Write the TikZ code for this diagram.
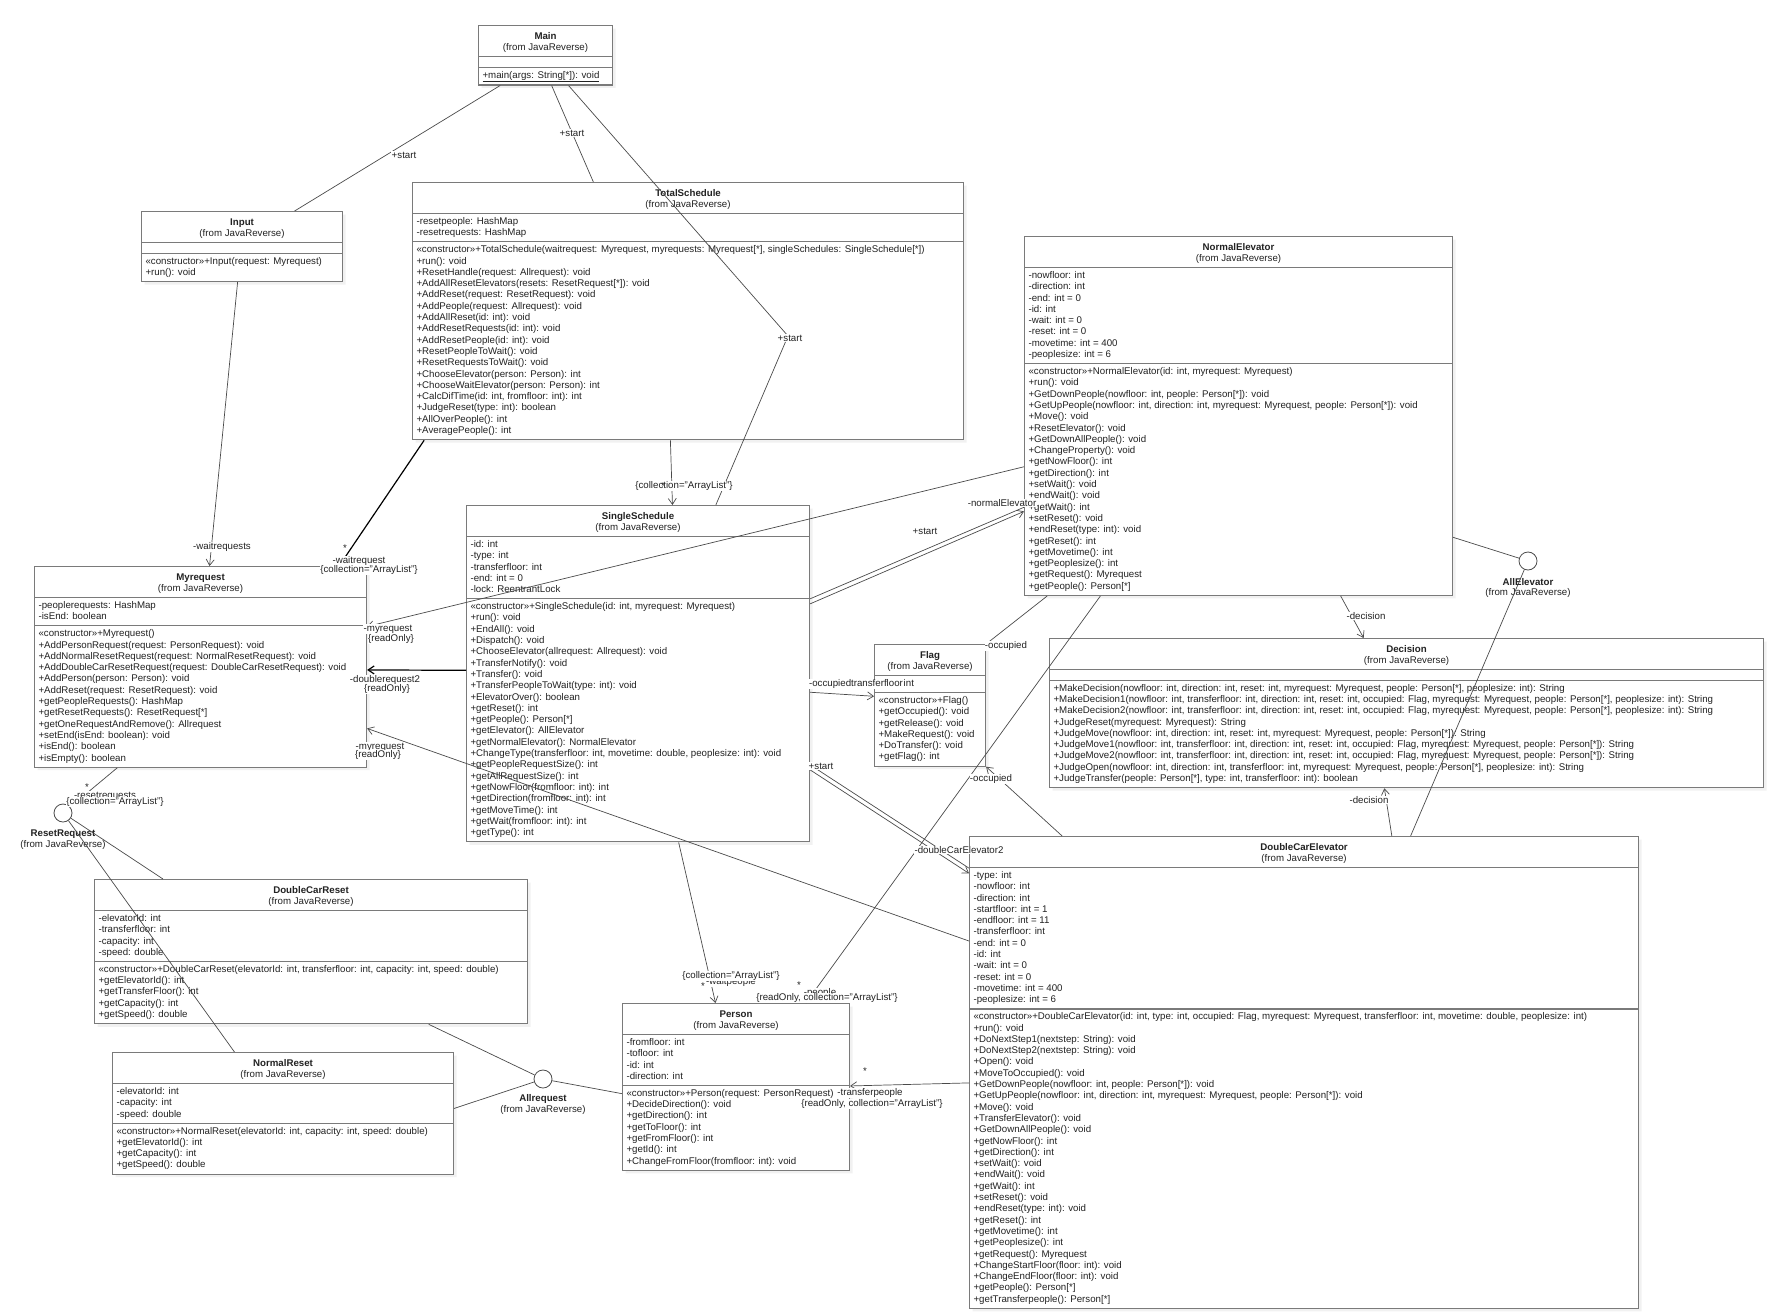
\documentclass[tikz,border=0pt]{standalone}
\usepackage{fontspec}
\setmainfont{Liberation Sans}
\usetikzlibrary{calc,arrows.meta,shapes.multipart,shadows}

\definecolor{boxgray}{HTML}{7A7A7A}
\definecolor{wiregray}{HTML}{4A4A4A}
\definecolor{inkgray}{HTML}{222222}

% 类名 + (from JavaReverse)
\newcommand{\ctitle}[1]{\makebox[\linewidth]{\rule{0pt}{10.7pt}\textbf{#1}}\\
  \makebox[\linewidth]{(from JavaReverse)\strut}}
\newcommand{\cnone}{\rule{0pt}{5pt}}

\begin{document}
\begin{tikzpicture}[x=1pt, y=-1pt,
  font=\fontsize{9.7}{11.3}\selectfont, text=inkgray,
  umlbox/.style={rectangle split, rectangle split parts=3, anchor=north west,
    draw=boxgray, line width=1.1pt, fill=white, align=flush left,
    inner xsep=4pt, inner ysep=2.3pt,
    drop shadow={shadow xshift=3pt, shadow yshift=-3pt, fill=black!10}},
  ifacecircle/.style={circle, draw=wiregray, line width=0.8pt, fill=white,
    minimum size=18pt, inner sep=0pt},
  rolelabel/.style={inner sep=0.4pt, fill=white},
  plainlabel/.style={inner sep=0.4pt},
  assocline/.style={draw=wiregray, line width=0.7pt},
  boldline/.style={draw=black, line width=1.2pt},
  navarrow/.style={-{Straight Barb[length=6pt, width=8pt]}}]

  \fill[white] (0,0) rectangle (1771,1311);
  \useasboundingbox (0,0) rectangle (1771,1311);

  % 类
  \node[umlbox, text width=126pt] (main) at (478,25) {\ctitle{Main}
    \nodepart{two}\cnone
    \nodepart{three}\strut\underline{+main(args: String[*]): void}\strut};

  \node[umlbox, text width=193pt] (input) at (141,211) {\ctitle{Input}
    \nodepart{two}\cnone
    \nodepart{three}\strut«constructor»+Input(request: Myrequest)\\
    +run(): void\strut};

  \node[umlbox, text width=543pt] (total) at (412,182) {\ctitle{TotalSchedule}
    \nodepart{two}\strut-resetpeople: HashMap\\
    -resetrequests: HashMap\strut
    \nodepart{three}\strut«constructor»+TotalSchedule(waitrequest: Myrequest, myrequests: Myrequest[*], singleSchedules: SingleSchedule[*])\\
    +run(): void\\
    +ResetHandle(request: Allrequest): void\\
    +AddAllResetElevators(resets: ResetRequest[*]): void\\
    +AddReset(request: ResetRequest): void\\
    +AddPeople(request: Allrequest): void\\
    +AddAllReset(id: int): void\\
    +AddResetRequests(id: int): void\\
    +AddResetPeople(id: int): void\\
    +ResetPeopleToWait(): void\\
    +ResetRequestsToWait(): void\\
    +ChooseElevator(person: Person): int\\
    +ChooseWaitElevator(person: Person): int\\
    +CalcDifTime(id: int, fromfloor: int): int\\
    +JudgeReset(type: int): boolean\\
    +AllOverPeople(): int\\
    +AveragePeople(): int\strut};

  \node[umlbox, text width=420pt] (normal) at (1024,236) {\ctitle{NormalElevator}
    \nodepart{two}\strut-nowfloor: int\\
    -direction: int\\
    -end: int = 0\\
    -id: int\\
    -wait: int = 0\\
    -reset: int = 0\\
    -movetime: int = 400\\
    -peoplesize: int = 6\strut
    \nodepart{three}\strut«constructor»+NormalElevator(id: int, myrequest: Myrequest)\\
    +run(): void\\
    +GetDownPeople(nowfloor: int, people: Person[*]): void\\
    +GetUpPeople(nowfloor: int, direction: int, myrequest: Myrequest, people: Person[*]): void\\
    +Move(): void\\
    +ResetElevator(): void\\
    +GetDownAllPeople(): void\\
    +ChangeProperty(): void\\
    +getNowFloor(): int\\
    +getDirection(): int\\
    +setWait(): void\\
    +endWait(): void\\
    +getWait(): int\\
    +setReset(): void\\
    +endReset(type: int): void\\
    +getReset(): int\\
    +getMovetime(): int\\
    +getPeoplesize(): int\\
    +getRequest(): Myrequest\\
    +getPeople(): Person[*]\strut};

  \node[umlbox, text width=324pt] (myreq) at (34,566) {\ctitle{Myrequest}
    \nodepart{two}\strut-peoplerequests: HashMap\\
    -isEnd: boolean\strut
    \nodepart{three}\strut«constructor»+Myrequest()\\
    +AddPersonRequest(request: PersonRequest): void\\
    +AddNormalResetRequest(request: NormalResetRequest): void\\
    +AddDoubleCarResetRequest(request: DoubleCarResetRequest): void\\
    +AddPerson(person: Person): void\\
    +AddReset(request: ResetRequest): void\\
    +getPeopleRequests(): HashMap\\
    +getResetRequests(): ResetRequest[*]\\
    +getOneRequestAndRemove(): Allrequest\\
    +setEnd(isEnd: boolean): void\\
    +isEnd(): boolean\\
    +isEmpty(): boolean\strut};

  \node[umlbox, text width=335pt] (single) at (466,505) {\ctitle{SingleSchedule}
    \nodepart{two}\strut-id: int\\
    -type: int\\
    -transferfloor: int\\
    -end: int = 0\\
    -lock: ReentrantLock\strut
    \nodepart{three}\strut«constructor»+SingleSchedule(id: int, myrequest: Myrequest)\\
    +run(): void\\
    +EndAll(): void\\
    +Dispatch(): void\\
    +ChooseElevator(allrequest: Allrequest): void\\
    +TransferNotify(): void\\
    +Transfer(): void\\
    +TransferPeopleToWait(type: int): void\\
    +ElevatorOver(): boolean\\
    +getReset(): int\\
    +getPeople(): Person[*]\\
    +getElevator(): AllElevator\\
    +getNormalElevator(): NormalElevator\\
    +ChangeType(transferfloor: int, movetime: double, peoplesize: int): void\\
    +getPeopleRequestSize(): int\\
    +getAllRequestSize(): int\\
    +getNowFloor(fromfloor: int): int\\
    +getDirection(fromfloor: int): int\\
    +getMoveTime(): int\\
    +getWait(fromfloor: int): int\\
    +getType(): int\strut};

  \node[umlbox, text width=103pt] (flag) at (874,644) {\ctitle{Flag}
    \nodepart{two}\strut-flag: int\strut
    \nodepart{three}\strut«constructor»+Flag()\\
    +getOccupied(): void\\
    +getRelease(): void\\
    +MakeRequest(): void\\
    +DoTransfer(): void\\
    +getFlag(): int\strut};

  \node[umlbox, text width=706pt] (decision) at (1049,638) {\ctitle{Decision}
    \nodepart{two}\cnone
    \nodepart{three}\strut+MakeDecision(nowfloor: int, direction: int, reset: int, myrequest: Myrequest, people: Person[*], peoplesize: int): String\\
    +MakeDecision1(nowfloor: int, transferfloor: int, direction: int, reset: int, occupied: Flag, myrequest: Myrequest, people: Person[*], peoplesize: int): String\\
    +MakeDecision2(nowfloor: int, transferfloor: int, direction: int, reset: int, occupied: Flag, myrequest: Myrequest, people: Person[*], peoplesize: int): String\\
    +JudgeReset(myrequest: Myrequest): String\\
    +JudgeMove(nowfloor: int, direction: int, reset: int, myrequest: Myrequest, people: Person[*]): String\\
    +JudgeMove1(nowfloor: int, transferfloor: int, direction: int, reset: int, occupied: Flag, myrequest: Myrequest, people: Person[*]): String\\
    +JudgeMove2(nowfloor: int, transferfloor: int, direction: int, reset: int, occupied: Flag, myrequest: Myrequest, people: Person[*]): String\\
    +JudgeOpen(nowfloor: int, direction: int, transferfloor: int, myrequest: Myrequest, people: Person[*], peoplesize: int): String\\
    +JudgeTransfer(people: Person[*], type: int, transferfloor: int): boolean\strut};

  \node[umlbox, text width=661pt] (dce) at (969,836) {\ctitle{DoubleCarElevator}
    \nodepart{two}\strut-type: int\\
    -nowfloor: int\\
    -direction: int\\
    -startfloor: int = 1\\
    -endfloor: int = 11\\
    -transferfloor: int\\
    -end: int = 0\\
    -id: int\\
    -wait: int = 0\\
    -reset: int = 0\\
    -movetime: int = 400\\
    -peoplesize: int = 6\strut
    \nodepart{three}\strut«constructor»+DoubleCarElevator(id: int, type: int, occupied: Flag, myrequest: Myrequest, transferfloor: int, movetime: double, peoplesize: int)\\
    +run(): void\\
    +DoNextStep1(nextstep: String): void\\
    +DoNextStep2(nextstep: String): void\\
    +Open(): void\\
    +MoveToOccupied(): void\\
    +GetDownPeople(nowfloor: int, people: Person[*]): void\\
    +GetUpPeople(nowfloor: int, direction: int, myrequest: Myrequest, people: Person[*]): void\\
    +Move(): void\\
    +TransferElevator(): void\\
    +GetDownAllPeople(): void\\
    +getNowFloor(): int\\
    +getDirection(): int\\
    +setWait(): void\\
    +endWait(): void\\
    +getWait(): int\\
    +setReset(): void\\
    +endReset(type: int): void\\
    +getReset(): int\\
    +getMovetime(): int\\
    +getPeoplesize(): int\\
    +getRequest(): Myrequest\\
    +ChangeStartFloor(floor: int): void\\
    +ChangeEndFloor(floor: int): void\\
    +getPeople(): Person[*]\\
    +getTransferpeople(): Person[*]\strut};

  \node[umlbox, text width=425pt] (dcreset) at (94,879) {\ctitle{DoubleCarReset}
    \nodepart{two}\strut-elevatorId: int\\
    -transferfloor: int\\
    -capacity: int\\
    -speed: double\strut
    \nodepart{three}\strut«constructor»+DoubleCarReset(elevatorId: int, transferfloor: int, capacity: int, speed: double)\\
    +getElevatorId(): int\\
    +getTransferFloor(): int\\
    +getCapacity(): int\\
    +getSpeed(): double\strut};

  \node[umlbox, text width=333pt] (nreset) at (112,1052) {\ctitle{NormalReset}
    \nodepart{two}\strut-elevatorId: int\\
    -capacity: int\\
    -speed: double\strut
    \nodepart{three}\strut«constructor»+NormalReset(elevatorId: int, capacity: int, speed: double)\\
    +getElevatorId(): int\\
    +getCapacity(): int\\
    +getSpeed(): double\strut};

  \node[umlbox, text width=219pt] (person) at (622,1003) {\ctitle{Person}
    \nodepart{two}\strut-fromfloor: int\\
    -tofloor: int\\
    -id: int\\
    -direction: int\strut
    \nodepart{three}\strut«constructor»+Person(request: PersonRequest)\\
    +DecideDirection(): void\\
    +getDirection(): int\\
    +getToFloor(): int\\
    +getFromFloor(): int\\
    +getId(): int\\
    +ChangeFromFloor(fromfloor: int): void\strut};

  % 接口（圆圈）
  \node[ifacecircle] (allelev) at (1528,561) {};
  \node[ifacecircle] (resetreq) at (63,813) {};
  \node[ifacecircle] (allreq) at (543,1079) {};
  \node[plainlabel] (allelev-n) at (1528,582) {\textbf{AllElevator}};
  \node[plainlabel] (allelev-f) at (1528,593) {(from JavaReverse)};
  \node[plainlabel] (resetreq-n) at (63,834) {\textbf{ResetRequest}};
  \node[plainlabel] (resetreq-f) at (63,845) {(from JavaReverse)};
  \node[plainlabel] (allreq-n) at (543,1099) {\textbf{Allrequest}};
  \node[plainlabel] (allreq-f) at (543,1110) {(from JavaReverse)};

  % Main
  \draw[assocline] ($(main.south west)!0.164!(main.south east)$) -- ($(input.north west)!0.76!(input.north east)$);
  \draw[assocline] ($(main.south west)!0.545!(main.south east)$) -- ($(total.north west)!0.3285!(total.north east)$);
  \coordinate (bend) at (788,336);
  \draw[assocline] ($(main.south west)!0.67!(main.south east)$) -- (bend) -- ($(single.north west)!0.726!(single.north east)$);

  % Input, TotalSchedule
  \draw[assocline, navarrow] ($(input.south west)!0.478!(input.south east)$) -- ($(myreq.north west)!0.527!(myreq.north east)$);
  \draw[boldline] ($(total.south west)!0.022!(total.south east)$) -- ($(myreq.north west)!0.916!(myreq.north east)$);
  \draw[assocline, navarrow] ($(total.south west)!0.468!(total.south east)$) -- ($(single.north west)!0.6!(single.north east)$);

  % NormalElevator
  \draw[assocline, navarrow] ($(normal.north west)!0.641!(normal.south west)$) -- ($(myreq.north east)!0.3!(myreq.south east)$);
  \draw[assocline] ($(normal.south west)!0.054!(normal.south east)$) -- (flag.north east);
  \draw[assocline] ($(normal.south west)!0.178!(normal.south east)$) -- ($(person.north west)!0.806!(person.north east)$);
  \draw[assocline, navarrow] ($(normal.south west)!0.738!(normal.south east)$) -- ($(decision.north west)!0.44!(decision.north east)$);
  \draw[assocline] ($(normal.north east)!0.837!(normal.south east)$) -- (allelev);

  % SingleSchedule
  \draw[boldline, navarrow] ($(single.north west)!0.49!(single.south west)$) -- ($(myreq.north east)!0.515!(myreq.south east)$);
  \draw[assocline] ($(single.north east)!0.278!(single.south east)$) -- ($(normal.north west)!0.7535!(normal.south west)$);
  \draw[assocline, navarrow] ($(single.north east)!0.293!(single.south east)$) -- ($(normal.north west)!0.765!(normal.south west)$);
  \draw[assocline, navarrow] ($(single.north east)!0.555!(single.south east)$) -- ($(flag.north west)!0.426!(flag.south west)$);
  \draw[assocline] ($(single.north east)!0.770!(single.south east)$) -- ($(dce.north west)!0.068!(dce.south west)$);
  \draw[assocline, navarrow] ($(single.north east)!0.785!(single.south east)$) -- ($(dce.north west)!0.079!(dce.south west)$);
  \draw[assocline, navarrow] ($(single.south west)!0.618!(single.south east)$) -- ($(person.north west)!0.41!(person.north east)$);

  % DoubleCarElevator
  \draw[assocline, navarrow] ($(dce.north west)!0.222!(dce.south west)$) -- ($(myreq.north east)!0.805!(myreq.south east)$);
  \draw[assocline, navarrow] ($(dce.north west)!0.522!(dce.south west)$) -- ($(person.north east)!0.494!(person.south east)$);
  \draw[assocline, navarrow] ($(dce.north west)!0.139!(dce.north east)$) -- (flag.south east);
  \draw[assocline, navarrow] ($(dce.north west)!0.631!(dce.north east)$) -- ($(decision.south west)!0.469!(decision.south east)$);
  \draw[assocline] ($(dce.north west)!0.659!(dce.north east)$) -- (allelev);

  % 请求接口
  \draw[assocline] ($(myreq.south west)!0.25!(myreq.south east)$) -- (resetreq);
  \draw[assocline] (resetreq) -- ($(dcreset.north west)!0.159!(dcreset.north east)$);
  \draw[assocline] (resetreq) -- ($(nreset.north west)!0.358!(nreset.north east)$);
  \draw[assocline] ($(dcreset.south west)!0.771!(dcreset.south east)$) -- (allreq);
  \draw[assocline] ($(nreset.north east)!0.46!(nreset.south east)$) -- (allreq);
  \draw[assocline] (allreq) -- ($(person.north west)!0.54!(person.south west)$);

  % 角色标签
  \node[rolelabel] (r-start1) at (404,155) {+start};
  \node[rolelabel] (r-start2) at (572,133) {+start};
  \node[rolelabel] (r-start3) at (790,338) {+start};
  \node[rolelabel] (r-waitreqs) at (222,547) {-waitrequests};
  \node[plainlabel] (r-star1) at (345,548) {*};
  \node[rolelabel] (r-waitreq) at (359,561) {-waitrequest};
  \node[rolelabel] (r-coll1) at (369,570) {\{collection="ArrayList"\}};
  \node[rolelabel] (r-myreq1) at (388,629) {-myrequest};
  \node[rolelabel] (r-ro1) at (391,639) {\{readOnly\}};
  \node[rolelabel] (r-dreq2) at (385,680) {-doublerequest2};
  \node[rolelabel] (r-ro2) at (387,689) {\{readOnly\}};
  \node[rolelabel] (r-myreq2) at (380,747) {-myrequest};
  \node[rolelabel] (r-ro3) at (378,755) {\{readOnly\}};
  \node[plainlabel] (r-star2) at (87,787) {*};
  \node[rolelabel] (r-resetreqs) at (105,796) {-resetrequests};
  \node[rolelabel] (r-coll2) at (115,802) {\{collection="ArrayList"\}};
  \node[rolelabel] (r-coll3) at (684,486) {\{collection="ArrayList"\}};
  \node[plainlabel] (r-star3) at (663,486) {*};
  \node[rolelabel] (r-normal) at (1002,503) {-normalElevator};
  \node[rolelabel] (r-start4) at (925,531) {+start};
  \node[rolelabel] (r-occtf) at (856,684) {-occupiedtransferfloor};
  \node[rolelabel] (r-start5) at (821,766) {+start};
  \node[rolelabel] (r-dce2) at (959,850) {-doubleCarElevator2};
  \node[rolelabel] (r-occ1) at (1006,646) {-occupied};
  \node[rolelabel] (r-occ2) at (991,779) {-occupied};
  \node[rolelabel] (r-dec1) at (1366,616) {-decision};
  \node[rolelabel] (r-dec2) at (1369,800) {-decision};
  \node[plainlabel] (r-star4) at (703,986) {*};
  \node[rolelabel] (r-waitpeople) at (731,982) {-waitpeople};
  \node[rolelabel] (r-coll4) at (731,976) {\{collection="ArrayList"\}};
  \node[plainlabel] (r-star5) at (799,985) {*};
  \node[rolelabel] (r-people) at (820,993) {-people};
  \node[rolelabel] (r-rocoll1) at (827,998) {\{readOnly, collection="ArrayList"\}};
  \node[plainlabel] (r-star6) at (865,1071) {*};
  \node[rolelabel] (r-transp) at (870,1093) {-transferpeople};
  \node[rolelabel] (r-rocoll2) at (872,1104) {\{readOnly, collection="ArrayList"\}};
\end{tikzpicture}
\end{document}
